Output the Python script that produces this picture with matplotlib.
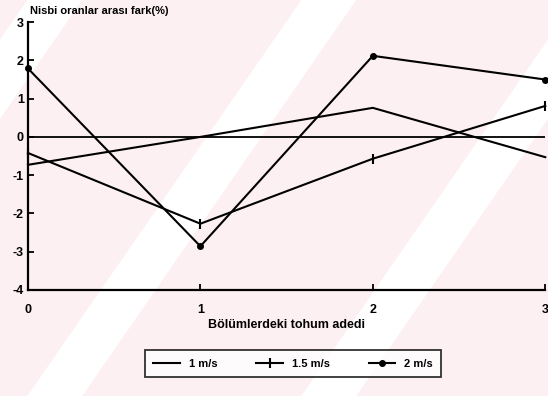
import numpy as np
from matplotlib import pyplot as plt
from matplotlib.patches import Polygon

# Veriler
tohum = [0, 1, 2, 3]
hiz_1 = [-0.73, 0.0, 0.76, -0.53]
hiz_15 = [-0.42, -2.27, -0.57, 0.81]
hiz_2 = [1.79, -2.86, 2.12, 1.50]
yticks = [3, 2, 1, 0, -1, -2, -3, -4]
xticks = [0, 1, 2, 3]

plt.rcParams['font.family'] = ['Liberation Sans', 'DejaVu Sans']
plt.rcParams['font.weight'] = 'bold'

fig = plt.figure(figsize=(5.48, 3.96), dpi=100)
fig.patch.set_facecolor('#fdf0f2')

# filigran benzeri beyaz seritler
for x0 in [-0.45, 0.05, 0.55]:
    fig.patches.append(Polygon([[x0, 0], [x0 + 0.10, 0], [x0 + 0.60, 1], [x0 + 0.50, 1]],
                               closed=True, transform=fig.transFigure,
                               facecolor='white', edgecolor='none', zorder=-1))

ax = fig.add_axes([0.051, 0.268, 0.944, 0.676])
ax.set_facecolor('none')

ax.axhline(0, color='black', lw=1.3)
ax.plot(tohum, hiz_1, color='black', lw=1.5, label='1 m/s', clip_on=False)
ax.plot(tohum, hiz_15, color='black', lw=1.5, marker='|', ms=7, mew=1.5,
        label='1.5 m/s', clip_on=False)
ax.plot(tohum, hiz_2, color='black', lw=1.5, marker='o', ms=4,
        label='2 m/s', clip_on=False)

ax.set_xlim(0, 3)
ax.set_ylim(-4, 3)
ax.set_xticks(xticks)
ax.set_yticks(yticks)
ax.set_yticklabels([str(v).replace('\u2212', '-') for v in yticks])
ax.tick_params(direction='in', length=4, width=1.3, labelsize=9)
ax.tick_params(axis='x', pad=10)
ax.tick_params(axis='y', pad=3)
for s in ['top', 'right']:
    ax.spines[s].set_visible(False)
for s in ['left', 'bottom']:
    ax.spines[s].set_linewidth(1.6)

fig.text(0.055, 0.972, 'Nisbi oranlar arası fark(%)', fontsize=8, fontweight='bold',
         va='center', ha='left')
ax.set_xlabel('Bölümlerdeki tohum adedi', fontsize=9, fontweight='bold', labelpad=2)

leg = fig.legend(loc='center', bbox_to_anchor=(0.535, 0.082), ncol=3, fontsize=8,
                 frameon=True, fancybox=False, edgecolor='black', handlelength=2.4,
                 columnspacing=3.5, borderpad=0.75)
leg.get_frame().set_linewidth(1.3)
leg.get_frame().set_facecolor('white')

plt.savefig('out.png', dpi=100, facecolor=fig.get_facecolor())
